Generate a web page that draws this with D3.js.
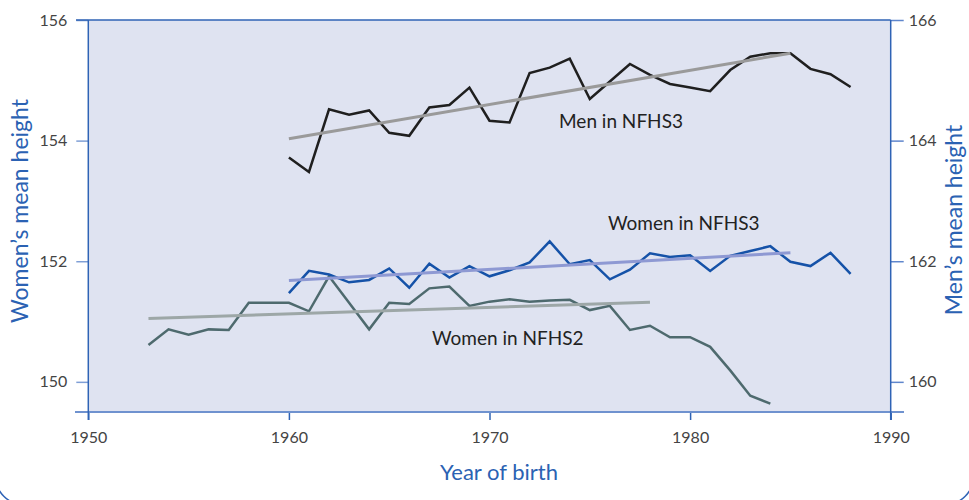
<!DOCTYPE html>
<html>
<head>
<meta charset="utf-8">
<script src="https://cdn.jsdelivr.net/npm/d3@7"></script>
<style>
  body { margin: 0; background: #fff; }
  svg { display: block; font-family: Lato, "Open Sans", sans-serif; }
</style>
</head>
<body>
<svg id="chart" width="969" height="500"></svg>
<script>
// years of birth
var menYears = d3.range(1960, 1989);
var women3Years = d3.range(1960, 1989);
var women2Years = d3.range(1953, 1985);

// mean heights (cm)
var menHeight = [163.72, 163.48, 164.52, 164.43, 164.50, 164.13, 164.08, 164.55, 164.59, 164.88,
                 164.33, 164.30, 165.12, 165.21, 165.36, 164.69, 164.98, 165.27, 165.09, 164.94,
                 164.88, 164.82, 165.17, 165.39, 165.45, 165.45, 165.19, 165.10, 164.89];
var women3Height = [151.47, 151.84, 151.78, 151.65, 151.69, 151.88, 151.56, 151.96, 151.73, 151.92,
                    151.75, 151.85, 151.98, 152.33, 151.95, 152.02, 151.70, 151.86, 152.13, 152.07,
                    152.10, 151.84, 152.09, 152.17, 152.25, 151.99, 151.92, 152.14, 151.79];
var women2Height = [150.61, 150.87, 150.78, 150.87, 150.86, 151.31, 151.31, 151.31, 151.17, 151.75,
                    151.31, 150.87, 151.31, 151.29, 151.55, 151.58, 151.26, 151.33, 151.37, 151.33,
                    151.35, 151.36, 151.19, 151.26, 150.86, 150.93, 150.74, 150.74, 150.58, 150.19,
                    149.77, 149.64];

// linear trends: [year, value] at each end
var menTrend = [[1960, 164.03], [1985, 165.45]];
var women3Trend = [[1960, 151.68], [1985, 152.14]];
var women2Trend = [[1953, 151.05], [1978, 151.32]];

var yearTicks = [1950, 1960, 1970, 1980, 1990];
var womenTicks = [150, 152, 154, 156];
var menTicks = [160, 162, 164, 166];

var svg = d3.select("#chart");
var pLeft = 88.3, pRight = 890.7, pTop = 20, pBottom = 412;

var x = d3.scaleLinear().domain([1950, 1990]).range([pLeft, pRight]);
var yW = d3.scaleLinear().domain([149.5, 156]).range([pBottom, pTop]);
var yM = d3.scaleLinear().domain([159.5, 166]).range([pBottom, pTop]);

// outer rounded frame
svg.append("rect")
  .attr("x", -5).attr("y", -40)
  .attr("width", 979).attr("height", 545)
  .attr("rx", 30)
  .attr("fill", "none")
  .attr("stroke", "#2f63b5")
  .attr("stroke-width", 1.5);

// plot background
svg.append("rect")
  .attr("x", pLeft).attr("y", pTop)
  .attr("width", pRight - pLeft).attr("height", pBottom - pTop)
  .attr("fill", "#dfe3f1");

// left axis
var axL = svg.append("g")
  .attr("transform", "translate(" + pLeft + ",0)")
  .call(d3.axisLeft(yW).tickValues(womenTicks).tickFormat(d3.format("d"))
    .tickSize(12).tickPadding(9).tickSizeOuter(0));
axL.select(".domain").remove();
axL.selectAll(".tick line").attr("stroke", "#7f9fd6").attr("stroke-width", 1.5);
axL.selectAll(".tick text").attr("fill", "#444").attr("font-size", 16).attr("font-family", "Lato, sans-serif");

// right axis
var axR = svg.append("g")
  .attr("transform", "translate(" + pRight + ",0)")
  .call(d3.axisRight(yM).tickValues(menTicks).tickFormat(d3.format("d"))
    .tickSize(13).tickPadding(5).tickSizeOuter(0));
axR.select(".domain").remove();
axR.selectAll(".tick line").attr("stroke", "#5f86cc").attr("stroke-width", 1.5);
axR.selectAll(".tick text").attr("fill", "#444").attr("font-size", 16).attr("font-family", "Lato, sans-serif");

// bottom axis
var axB = svg.append("g")
  .attr("transform", "translate(0," + pBottom + ")")
  .call(d3.axisBottom(x).tickValues(yearTicks).tickFormat(d3.format("d")).tickSize(8).tickSizeOuter(0));
axB.select(".domain").remove();
axB.selectAll(".tick line").attr("stroke", "#2f63b5").attr("stroke-width", 1.5);
axB.selectAll(".tick text").attr("fill", "#444").attr("font-size", 16)
  .attr("font-family", "Lato, sans-serif").attr("y", 31).attr("dy", 0);

// frame lines
svg.append("line").attr("x1", 76).attr("x2", pRight).attr("y1", pTop).attr("y2", pTop)
  .attr("stroke", "#2f63b5").attr("stroke-width", 1.5);
svg.append("line").attr("x1", 75).attr("x2", 904).attr("y1", pBottom).attr("y2", pBottom)
  .attr("stroke", "#6f92cf").attr("stroke-width", 2);
svg.append("line").attr("x1", pLeft).attr("x2", pLeft).attr("y1", pTop).attr("y2", 420)
  .attr("stroke", "#2f63b5").attr("stroke-width", 1.5);
svg.append("line").attr("x1", pRight).attr("x2", pRight).attr("y1", pTop).attr("y2", 420)
  .attr("stroke", "#2f63b5").attr("stroke-width", 1.5);

function drawLine(years, vals, yScale, color, w) {
  var pts = years.map(function(d, i) { return [d, vals[i]]; });
  svg.append("path")
    .datum(pts)
    .attr("fill", "none")
    .attr("stroke", color)
    .attr("stroke-width", w)
    .attr("stroke-linejoin", "miter")
    .attr("d", d3.line()
      .x(function(d) { return x(d[0]); })
      .y(function(d) { return yScale(d[1]); }));
}

drawLine(women2Years, women2Height, yW, "#4e6a6e", 2.5);
drawLine(women3Years, women3Height, yW, "#1552a8", 2.5);
drawLine(menYears, menHeight, yM, "#1f1f1f", 2.5);

function drawTrend(t, yScale, color) {
  svg.append("path")
    .datum(t)
    .attr("fill", "none")
    .attr("stroke", color)
    .attr("stroke-width", 3)
    .attr("d", d3.line()
      .x(function(d) { return x(d[0]); })
      .y(function(d) { return yScale(d[1]); }));
}

drawTrend(women2Trend, yW, "#9da7a7");
drawTrend(women3Trend, yW, "#8e99d3");
drawTrend(menTrend, yM, "#9a9a9a");

// series labels
svg.append("text").attr("x", 559).attr("y", 128).text("Men in NFHS3")
  .attr("font-size", 19).attr("fill", "#222");
svg.append("text").attr("x", 608).attr("y", 230).text("Women in NFHS3")
  .attr("font-size", 19).attr("fill", "#222");
svg.append("text").attr("x", 432).attr("y", 345).text("Women in NFHS2")
  .attr("font-size", 19).attr("fill", "#222");

// axis titles
svg.append("text")
  .attr("transform", "translate(28,211) rotate(-90)")
  .attr("text-anchor", "middle")
  .attr("font-size", 23).attr("fill", "#2b62b3")
  .text("Women\u2019s mean height");
svg.append("text")
  .attr("transform", "translate(962,220) rotate(-90)")
  .attr("text-anchor", "middle")
  .attr("font-size", 23).attr("fill", "#2b62b3")
  .text("Men\u2019s mean height");
svg.append("text")
  .attr("x", 499).attr("y", 480)
  .attr("text-anchor", "middle")
  .attr("font-size", 22).attr("fill", "#2b62b3")
  .text("Year of birth");
</script>
</body>
</html>
